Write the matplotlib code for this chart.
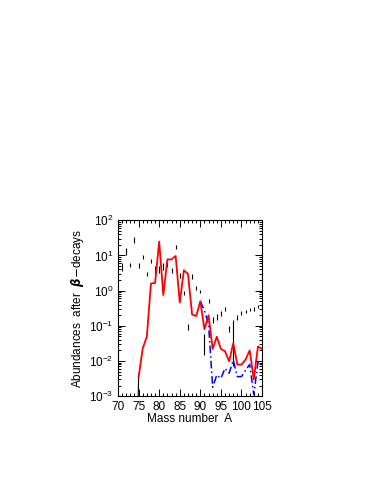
import numpy as np
import matplotlib.pyplot as plt
from matplotlib.ticker import MultipleLocator, LogLocator, NullFormatter

plt.rcParams['font.family'] = ['Liberation Sans', 'DejaVu Sans']
plt.rcParams['mathtext.fontset'] = 'dejavusans'

# observed abundances (black error bars)
obs_A = [71, 72, 73, 74, 75, 76, 77, 78, 79, 80, 81, 82, 83, 84, 85, 86, 87, 88,
         89, 90, 91, 92, 93, 94, 95, 96, 97, 98, 99, 100, 101, 102, 103, 104, 105]
obs_val = [4.7, 13, 5.5, 28, 5.3, 9.1, 3.0, 7.0, 3.8, 4.0, 5.0, 5.5, 3.7, 17.5, 2.7,
           0.87, 0.093, 2.6, 1.2, 0.95, 0.032, 0.51, 0.15, 0.18, 0.22, 0.31, 0.083,
           0.035, 0.17, 0.23, 0.26, 0.29, 0.3, 0.36, 0.3]
obs_lo = [3.6, 10.5, 4.8, 23, 4.5, 8.0, 2.6, 6.0, 2.8, 3.2, 3.9, 4.7, 3.2, 15, 2.3,
          0.75, 0.075, 2.2, 1.05, 0.85, 0.015, 0.45, 0.12, 0.15, 0.19, 0.27, 0.065,
          0.007, 0.15, 0.2, 0.23, 0.26, 0.27, 0.32, 0.26]
obs_hi = [6.0, 16, 6.3, 33, 6.2, 10.5, 3.5, 8.0, 5.0, 5.0, 6.3, 6.5, 4.3, 20, 3.2,
          1.0, 0.115, 3.0, 1.35, 1.05, 0.06, 0.58, 0.18, 0.22, 0.26, 0.35, 0.1,
          0.15, 0.2, 0.26, 0.29, 0.33, 0.34, 0.4, 0.34]

# calculated abundances (red solid)
red_A = [75, 76, 77, 78, 79, 80, 81, 82, 83, 84, 85, 86, 87, 88, 89, 90,
         91, 92, 93, 94, 95, 96, 97, 98, 99, 100, 101, 102, 103, 104, 105]
red_val = [0.0035, 0.023, 0.049, 1.6, 1.65, 25, 0.75, 7.8, 7.7, 9.7, 0.46, 3.8, 3.0,
           0.21, 0.19, 0.5, 0.08, 0.2, 0.022, 0.049, 0.022, 0.019, 0.0098, 0.032,
           0.0079, 0.0079, 0.011, 0.02, 0.003, 0.026, 0.022]

# tail below A=75 (black)
low_A = [74, 75]
low_val = [1e-8, 0.0035]

# alternative calculation (blue dash-dot)
blue_A = [90, 91, 92, 93, 94, 95, 96, 97, 98, 99, 100, 101, 102, 103, 104, 105]
blue_val = [0.5, 0.27, 0.11, 0.0018, 0.004, 0.0032, 0.0062, 0.0045, 0.0105, 0.0036,
            0.0036, 0.0055, 0.008, 0.0011, 0.0093, 0.008]

fig = plt.figure(figsize=(3.82, 4.94), dpi=100)
ax = fig.add_axes([0.309, 0.198, 0.377, 0.356])

obs_val = np.array(obs_val)
yerr = [obs_val - np.array(obs_lo), np.array(obs_hi) - obs_val]
ax.errorbar(obs_A, obs_val, yerr=yerr, fmt='none', ecolor='black', elinewidth=0.8,
            capsize=0, zorder=2)
ax.plot(low_A, low_val, color='black', lw=0.8, zorder=2)
ax.plot(blue_A, blue_val, color='blue', lw=1.1, linestyle=(0, (5, 2, 1, 2)), zorder=3)
ax.plot(red_A, red_val, color='red', lw=1.3, zorder=4)

ax.set_yscale('log')
ax.set_xlim(70, 105)
ax.set_ylim(1e-3, 1e2)
ax.xaxis.set_major_locator(MultipleLocator(5))
ax.xaxis.set_minor_locator(MultipleLocator(1))
ax.yaxis.set_major_locator(LogLocator(base=10, numticks=10))
ax.yaxis.set_minor_locator(LogLocator(base=10, subs=np.arange(2, 10), numticks=10))
ax.yaxis.set_minor_formatter(NullFormatter())
ax.tick_params(which='both', direction='in', top=True, right=True, labelsize=8.5, width=0.7)
ax.tick_params(which='major', length=5)
ax.tick_params(which='minor', length=2.5)
for s in ax.spines.values():
    s.set_linewidth(0.8)

ax.set_xlabel('Mass number  A', fontsize=8.5, labelpad=0)
ax.set_ylabel(r'Abundances  after  $\boldsymbol{\beta}$$-$decays', fontsize=8.5, labelpad=2)

fig.savefig('out.png', dpi=100)
